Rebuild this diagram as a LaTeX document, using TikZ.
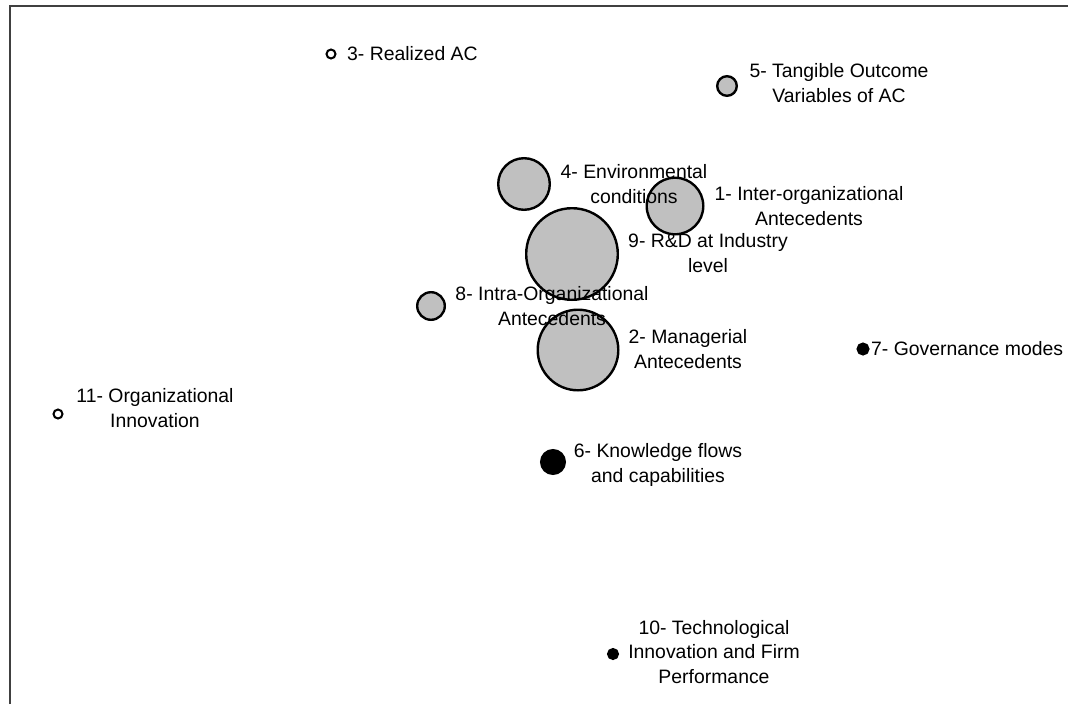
\documentclass[tikz,border=0pt]{standalone}
\usepackage{fontspec}
\setmainfont{Liberation Sans}
\definecolor{bubblegray}{RGB}{192,192,192}
\definecolor{framegray}{RGB}{64,64,64}
\begin{document}
\begin{tikzpicture}[x=1pt, y=-1pt,
	bubble/.style={circle, draw=black, line width=2.4pt, inner sep=0pt, fill=bubblegray},
	lbl/.style={inner sep=0pt, align=center, anchor=base, font=\fontsize{19.4}{24.3}\selectfont}]
	\useasboundingbox (0,0) rectangle (1068,704);
	\draw[framegray, line width=1.2pt] (10,704) coordinate (frame bottom) -- (10,6) coordinate (frame corner) -- (1068,6) coordinate (frame right);
	
	\node[bubble, minimum size=56.6] (bubble 1) at (675,206) {};
	\node[bubble, minimum size=80.6] (bubble 2) at (578,350) {};
	\node[bubble, fill=white, line width=2pt, minimum size=9] (bubble 3) at (331,54) {};
	\node[bubble, minimum size=51.6] (bubble 4) at (524,184) {};
	\node[bubble, minimum size=19.6] (bubble 5) at (727,86) {};
	\node[bubble, fill=black, minimum size=23.6] (bubble 6) at (553,462) {};
	\node[bubble, fill=black, minimum size=10.6] (bubble 7) at (863,349) {};
	\node[bubble, minimum size=27.6] (bubble 8) at (431,306) {};
	\node[bubble, minimum size=91.6] (bubble 9) at (572,254) {};
	\node[bubble, fill=black, minimum size=9.6] (bubble 10) at (613,654) {};
	\node[bubble, fill=white, line width=2pt, minimum size=9] (bubble 11) at (58,414) {};
	
	% labels sit on the baseline of their last line
	\node[lbl] (label 1) at (809,225) {1- Inter-organizational\\Antecedents};
	\node[lbl] (label 2) at (688,368) {2- Managerial\\Antecedents};
	\node[lbl, anchor=base west] (label 3) at (347,60) {3- Realized AC};
	\node[lbl] (label 4) at (634,203) {4- Environmental\\conditions};
	\node[lbl] (label 5) at (839,102) {5- Tangible Outcome\\Variables of AC};
	\node[lbl] (label 6) at (658,482) {6- Knowledge flows\\and capabilities};
	\node[lbl, anchor=base west] (label 7) at (871,355) {7- Governance modes};
	\node[lbl] (label 8) at (552,325) {8- Intra-Organizational\\Antecedents};
	\node[lbl] (label 9) at (708,272) {9- R\&D at Industry\\level};
	\node[lbl] (label 10) at (714,683) {10- Technological\\Innovation and Firm\\Performance};
	\node[lbl] (label 11) at (155,427) {11- Organizational\\Innovation};
	
\end{tikzpicture}
\end{document}
